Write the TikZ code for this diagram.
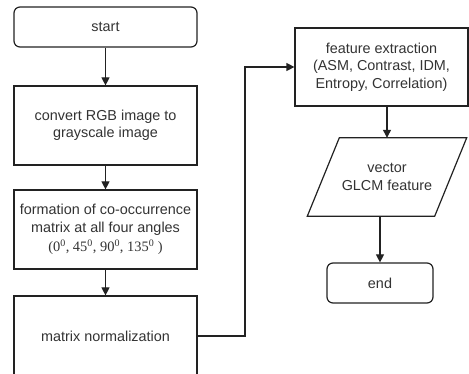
\documentclass[tikz,border=0pt]{standalone}
\usepackage{fontspec}
\setmainfont{Liberation Sans}
\newfontfamily\serifnum{Liberation Serif}
\usetikzlibrary{arrows.meta}
\definecolor{ink}{HTML}{222222}
\definecolor{txt}{HTML}{333333}
\tikzset{
  box/.style={draw=ink, line width=1.2pt, align=center, text=txt, inner sep=0pt,
    font=\fontsize{14.4}{17.3}\selectfont},
  roundbox/.style={box, rounded corners=6pt},
  conn/.style={draw=ink, line width=1.2pt, -{Triangle[length=8pt,width=8pt]}},
  plain/.style={align=center, text=txt, inner sep=0pt, font=\fontsize{14.4}{17.3}\selectfont},
}
\begin{document}
\begin{tikzpicture}[x=1pt,y=-1pt]
\useasboundingbox (0,0) rectangle (469,374);
\clip (0,0) rectangle (469,374);
\fill[white] (0,0) rectangle (469,374);
\node[roundbox, minimum width=183, minimum height=40] (start) at (105.5,27) {start};
\node[box, minimum width=183, minimum height=79] (conv) at (105.5,125.5) {convert RGB image to\\grayscale image};
\node[box, minimum width=183, minimum height=79] (form) at (105.5,229.5) {formation of co-occurrence\\matrix at all four angles\\[2pt]{\serifnum (0\textsuperscript{0}, 45\textsuperscript{0}, 90\textsuperscript{0}, 135\textsuperscript{0} )}};
\node[box, minimum width=183, minimum height=80] (norm) at (105.5,336) {matrix normalization};
\node[box, minimum width=173, minimum height=78] (feat) at (381.5,67) {feature extraction\\(ASM, Contrast, IDM,\\Entropy, Correlation)};
\node[plain, minimum width=127, minimum height=78] (para) at (387,177) {vector\\GLCM feature};
\draw[draw=ink, line width=1.2pt] ([xshift=16pt]para.north west) -- ([xshift=16pt]para.north east) -- ([xshift=-16pt]para.south east) -- ([xshift=-16pt]para.south west) -- cycle;
\node[roundbox, minimum width=106, minimum height=40] (endn) at (380,283) {end};
\coordinate (bend) at (245,0);
\draw[conn] (start) -- (conv);
\draw[conn] (conv) -- (form);
\draw[conn] (form) -- (norm);
\draw[conn] (norm.east) -| (bend |- feat.west) -- (feat.west);
\draw[conn] (feat.south -| para.center) -- (para.north);
\draw[conn] (para.south -| endn.center) -- (endn.north);
\end{tikzpicture}
\end{document}
